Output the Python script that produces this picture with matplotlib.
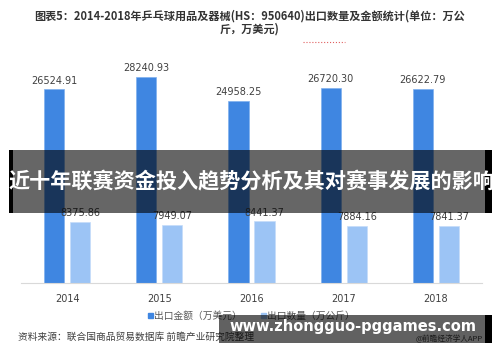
import numpy as np
import matplotlib.pyplot as plt
from matplotlib.patches import Rectangle

plt.rcParams['font.family'] = ['Noto Sans CJK SC', 'DejaVu Sans']

years = ['2014', '2015', '2016', '2017', '2018']
amount = [26524.91, 28240.93, 24958.25, 26720.30, 26622.79]   # 出口金额（万美元）
volume = [8375.86, 7949.07, 8441.37, 7884.16, 7841.37]        # 出口数量（万公斤）

title = '图表5：2014-2018年乒乓球用品及器械(HS：950640)出口数量及金额统计(单位：万公\n斤，万美元)'
banner = '近十年联赛资金投入趋势分析及其对赛事发展的影响'
source = '资料来源：联合国商品贸易数据库 前瞻产业研究院整理'

c_dark = '#3f86e1'
c_light = '#9cc4f5'

fig = plt.figure(figsize=(5, 3.62), dpi=100)
ax = fig.add_axes([0.042, 0.218, 0.922, 0.605])

x = np.arange(len(years))
off = 0.141
w = 0.217
ax.bar(x - off, amount, w, color=c_dark, edgecolor='#7fb0ee', linewidth=0.5)
ax.bar(x + off, volume, w, color=c_light, edgecolor='#c5dcf9', linewidth=0.5)
for i in range(len(years)):
    ax.text(x[i] - off, amount[i] + 500, '%.2f' % amount[i], ha='center', va='bottom',
            fontsize=7, color='#404040', family='DejaVu Sans')
    ax.text(x[i] + off, volume[i] + 500, '%.2f' % volume[i], ha='center', va='bottom',
            fontsize=7, color='#404040', family='DejaVu Sans')

ax.set_xlim(-0.5, 4.5)
ax.set_ylim(0, 30000)
ax.set_xticks(x)
ax.set_xticklabels(years, fontsize=7, color='#404040', family='DejaVu Sans')
ax.tick_params(axis='x', length=0, pad=8)
ax.set_yticks([])
for s in ['top', 'left', 'right']:
    ax.spines[s].set_visible(False)
ax.spines['bottom'].set_color('#d9d9d9')
ax.spines['bottom'].set_linewidth(0.8)

# title
fig.text(0.5, 0.975, title, ha='center', va='top', fontsize=8, fontweight='bold',
         color='#333333', linespacing=1.0)
fig.lines.append(plt.Line2D([0.606, 0.69], [0.884, 0.884], transform=fig.transFigure,
                            color='#e06060', linestyle=':', linewidth=0.8))

# legend
fig.patches.append(Rectangle((0.296, 0.121), 0.01, 0.014, transform=fig.transFigure,
                             color=c_dark))
fig.text(0.308, 0.128, '出口金额（万美元）', ha='left', va='center', fontsize=7, color='#595959')
fig.patches.append(Rectangle((0.522, 0.121), 0.01, 0.014, transform=fig.transFigure,
                             color=c_light))
fig.text(0.534, 0.128, '出口数量（万公斤）', ha='left', va='center', fontsize=7, color='#595959')

# source
fig.text(0.036, 0.069, source, ha='left', va='center', fontsize=7, color='#404040')
fig.text(0.966, 0.064, '@前瞻经济学人APP', ha='right', va='center', fontsize=5.5,
         color='#404040')

# banner overlay (semi-transparent)
fig.patches.append(Rectangle((0.018, 0.412), 0.008, 0.174, transform=fig.transFigure,
                             facecolor='black', zorder=5))
fig.patches.append(Rectangle((0.026, 0.412), 0.944, 0.174, transform=fig.transFigure,
                             facecolor='black', alpha=0.6, zorder=5))
fig.patches.append(Rectangle((0.970, 0.412), 0.014, 0.174, transform=fig.transFigure,
                             facecolor='black', zorder=5))
fig.text(0.503, 0.497, banner, ha='center', va='center', fontsize=15.2, fontweight='bold',
         color='white', zorder=6)

# url overlay (semi-transparent)
fig.patches.append(Rectangle((0.437, 0.052), 0.533, 0.078, transform=fig.transFigure,
                             facecolor='black', alpha=0.62, zorder=5))
fig.patches.append(Rectangle((0.970, 0.052), 0.014, 0.078, transform=fig.transFigure,
                             facecolor='black', zorder=5))
fig.text(0.705, 0.099, 'www.zhongguo-pggames.com', ha='center', va='center', fontsize=10.5,
         fontweight='bold', color='white', family='DejaVu Sans', zorder=6)

fig.savefig('out.png', dpi=100)
